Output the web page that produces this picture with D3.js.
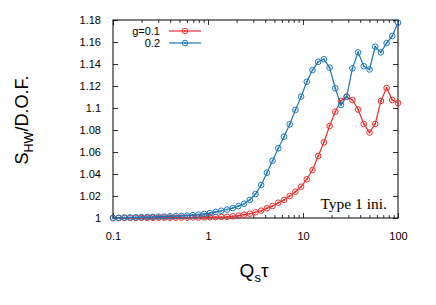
<!DOCTYPE html>
<html>
<head>
<meta charset="utf-8">
<script src="https://cdn.jsdelivr.net/npm/d3@7"></script>
<style>
  body { margin: 0; background: #fff; }
  text { font-family: "Liberation Sans", Arial, sans-serif; }
</style>
</head>
<body>
<div id="chart"></div>
<script>
// tau grid (log-spaced)
const tau = [0.1, 0.1148, 0.1318, 0.1514, 0.1738, 0.1995, 0.2291, 0.263, 0.302, 0.3467,
  0.3981, 0.4571, 0.5248, 0.6026, 0.6918, 0.7943, 0.912, 1.047, 1.202, 1.38,
  1.585, 1.82, 2.089, 2.399, 2.754, 3.162, 3.631, 4.169, 4.786, 5.495,
  6.31, 7.244, 8.318, 9.55, 10.96, 12.59, 14.45, 16.6, 19.05, 21.88,
  25.12, 28.84, 33.11, 38.02, 43.65, 50.12, 57.54, 66.07, 75.86, 87.1, 100];

const g01 = [1.0000, 1.0000, 1.0001, 1.0001, 1.0001, 1.0002, 1.0002, 1.0002, 1.0003, 1.0003,
  1.0003, 1.0003, 1.0004, 1.0004, 1.0005, 1.0005, 1.0006, 1.0007, 1.0008, 1.0009,
  1.0011, 1.0015, 1.0021, 1.0030, 1.0039, 1.0052, 1.0067, 1.0088, 1.0109, 1.0139,
  1.0164, 1.0200, 1.0239, 1.0285, 1.0352, 1.0436, 1.0564, 1.0688, 1.0836, 1.0966,
  1.1066, 1.1103, 1.1073, 1.0986, 1.0855, 1.0777, 1.0855, 1.1064, 1.1182, 1.1073, 1.1045];

const g02 = [1.0000, 1.0002, 1.0004, 1.0005, 1.0006, 1.0008, 1.0009, 1.0010, 1.0012, 1.0013,
  1.0015, 1.0017, 1.0019, 1.0022, 1.0026, 1.0031, 1.0037, 1.0045, 1.0055, 1.0066,
  1.0077, 1.0090, 1.0108, 1.0130, 1.0165, 1.0218, 1.0300, 1.0412, 1.0521, 1.0634,
  1.0739, 1.0852, 1.0982, 1.1103, 1.1239, 1.1345, 1.1420, 1.1443, 1.1367, 1.1180,
  1.1027, 1.1103, 1.1360, 1.1506, 1.1380, 1.1350, 1.1557, 1.1506, 1.1590, 1.1655, 1.1775];

const xTicks = [0.1, 1, 10, 100];
const yTicks = [1, 1.02, 1.04, 1.06, 1.08, 1.1, 1.12, 1.14, 1.16, 1.18];

const series = [
  { label: "g=0.1", values: g01, color: "#ec2d2d" },
  { label: "0.2", values: g02, color: "#1b76b9" }
];

const width = 436, height = 305;
const margin = { top: 20, right: 38, bottom: 87, left: 113 };

const svg = d3.select("#chart").append("svg")
  .attr("width", width)
  .attr("height", height);

const x = d3.scaleLog()
  .domain([0.1, 100])
  .range([margin.left, width - margin.right]);

const y = d3.scaleLinear()
  .domain([1, 1.18])
  .range([height - margin.bottom, margin.top]);

// minor x ticks
const minor = [];
[0.1, 1, 10].forEach(d => { for (let k = 2; k <= 9; k++) minor.push(d * k); });

const fmtX = d => String(d);
const fmtY = d => String(+d.toFixed(2));

function styleAxis(g) {
  g.select(".domain").remove();
  g.selectAll("line").attr("stroke", "#000").attr("stroke-width", 0.8);
  g.selectAll("text").attr("fill", "#000").style("font-size", "11px");
}

svg.append("g")
  .attr("transform", `translate(0,${y.range()[0]})`)
  .call(d3.axisBottom(x).tickValues(xTicks).tickFormat(fmtX).tickSize(-5).tickPadding(14))
  .call(styleAxis);
svg.append("g")
  .attr("transform", `translate(0,${y.range()[0]})`)
  .call(d3.axisBottom(x).tickValues(minor).tickFormat("").tickSize(-3))
  .call(styleAxis);
svg.append("g")
  .attr("transform", `translate(0,${y.range()[1]})`)
  .call(d3.axisTop(x).tickValues(xTicks).tickFormat("").tickSize(-5))
  .call(styleAxis);
svg.append("g")
  .attr("transform", `translate(0,${y.range()[1]})`)
  .call(d3.axisTop(x).tickValues(minor).tickFormat("").tickSize(-3))
  .call(styleAxis);

svg.append("g")
  .attr("transform", `translate(${x.range()[0]},0)`)
  .call(d3.axisLeft(y).tickValues(yTicks).tickFormat(fmtY).tickSize(-5).tickPadding(12))
  .call(styleAxis);
svg.append("g")
  .attr("transform", `translate(${x.range()[1]},0)`)
  .call(d3.axisRight(y).tickValues(yTicks).tickFormat("").tickSize(-5))
  .call(styleAxis);

// frame
svg.append("rect")
  .attr("x", x.range()[0])
  .attr("y", y.range()[1])
  .attr("width", x.range()[1] - x.range()[0])
  .attr("height", y.range()[0] - y.range()[1])
  .attr("fill", "none")
  .attr("stroke", "#000")
  .attr("stroke-width", 1);

const line = d3.line()
  .x((d, i) => x(tau[i]))
  .y(d => y(d));

function marker(g, color) {
  g.append("circle").attr("r", 2.8).attr("fill", "none")
    .attr("stroke", color).attr("stroke-width", 1);
  g.append("circle").attr("r", 1).attr("fill", color);
}

series.forEach(s => {
  svg.append("path")
    .datum(s.values)
    .attr("d", line)
    .attr("fill", "none")
    .attr("stroke", s.color)
    .attr("stroke-width", 1.2);

  svg.append("g").selectAll("g")
    .data(s.values)
    .enter()
    .append("g")
    .attr("transform", (d, i) => `translate(${x(tau[i])},${y(d)})`)
    .each(function() { marker(d3.select(this), s.color); });
});

// legend
const legend = svg.append("g");
series.forEach((s, i) => {
  const ly = 31 + i * 12;
  legend.append("text")
    .attr("x", 160).attr("y", ly + 4)
    .attr("text-anchor", "end")
    .style("font-size", "11px")
    .text(s.label);
  legend.append("line")
    .attr("x1", 169).attr("x2", 201)
    .attr("y1", ly).attr("y2", ly)
    .attr("stroke", s.color).attr("stroke-width", 1.2);
  const m = legend.append("g").attr("transform", `translate(185,${ly})`);
  marker(m, s.color);
});

// annotation
svg.append("text")
  .attr("x", 387).attr("y", 209)
  .attr("text-anchor", "end")
  .style("font-family", "'Liberation Serif', 'Times New Roman', serif")
  .style("font-size", "15.5px")
  .text("Type 1 ini.");

// axis labels
const xl = svg.append("text")
  .attr("x", 254).attr("y", 277)
  .attr("text-anchor", "middle")
  .style("font-size", "19px");
xl.append("tspan").text("Q");
xl.append("tspan").attr("dy", 5).style("font-size", "13px").text("s");
xl.append("tspan").attr("dy", -5).text("τ");

const yl = svg.append("text")
  .attr("transform", "translate(28,120) rotate(-90)")
  .attr("text-anchor", "middle")
  .style("font-size", "18px");
yl.append("tspan").text("S");
yl.append("tspan").attr("dy", 5).style("font-size", "12.5px").text("HW");
yl.append("tspan").attr("dy", -5).text("/D.O.F.");
</script>
</body>
</html>
